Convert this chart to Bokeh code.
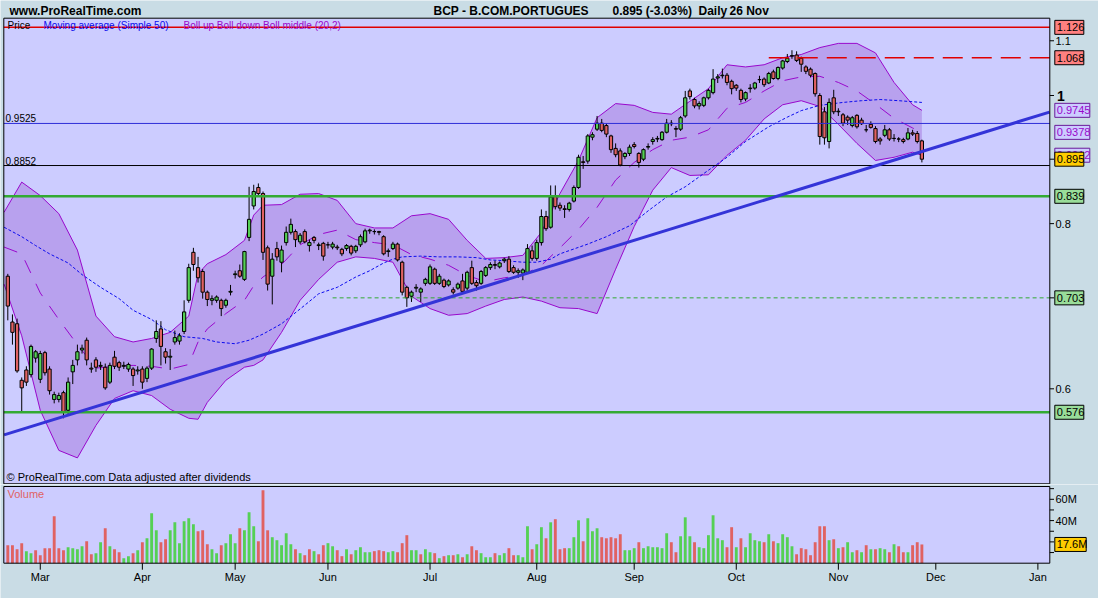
import numpy as np
import pandas as pd
from bokeh.plotting import figure
from bokeh.layouts import column
from bokeh.models import Range1d, ColumnDataSource
from bokeh.core.properties import value
from bokeh.embed import file_html
from bokeh.resources import INLINE

# ---------------- data ----------------
first_session = "2009-02-19"
last_axis_day = "2010-01-29"
market_holidays = ["2009-04-10", "2009-04-13", "2009-05-01", "2009-12-25", "2010-01-01"]
month_labels = ["Mar", "Apr", "May", "Jun", "Jul", "Aug", "Sep", "Oct", "Nov", "Dec", "Jan"]

opens = [0.730, 0.674, 0.672, 0.609, 0.620, 0.615, 0.633, 0.610, 0.639, 0.621,
         0.589, 0.589, 0.596, 0.578, 0.618, 0.631, 0.642, 0.653, 0.622, 0.631,
         0.624, 0.623, 0.607, 0.634, 0.628, 0.624, 0.621, 0.621, 0.619, 0.621,
         0.611, 0.622, 0.655, 0.666, 0.640, 0.634, 0.651, 0.652, 0.663, 0.700,
         0.761, 0.741, 0.736, 0.710, 0.700, 0.700, 0.700, 0.694, 0.710, 0.732,
         0.737, 0.726, 0.781, 0.825, 0.852, 0.843, 0.767, 0.730, 0.766, 0.748,
         0.774, 0.788, 0.789, 0.775, 0.789, 0.770, 0.781, 0.770, 0.773, 0.771,
         0.768, 0.768, 0.765, 0.766, 0.769, 0.763, 0.771, 0.775, 0.790, 0.789,
         0.789, 0.782, 0.762, 0.766, 0.772, 0.748, 0.716, 0.705, 0.715, 0.710,
         0.721, 0.721, 0.739, 0.721, 0.725, 0.719, 0.713, 0.715, 0.724, 0.715,
         0.741, 0.722, 0.721, 0.731, 0.741, 0.745, 0.742, 0.750, 0.752, 0.741,
         0.735, 0.734, 0.735, 0.763, 0.753, 0.774, 0.810, 0.795, 0.840, 0.826,
         0.821, 0.820, 0.832, 0.852, 0.891, 0.892, 0.930, 0.943, 0.953, 0.949,
         0.932, 0.912, 0.908, 0.899, 0.904, 0.918, 0.904, 0.895, 0.914, 0.923,
         0.927, 0.926, 0.938, 0.953, 0.944, 0.943, 0.965, 1.008, 0.993, 0.982,
         0.983, 0.996, 1.005, 1.031, 1.035, 1.036, 1.025, 1.018, 1.009, 0.994,
         1.012, 1.013, 1.028, 1.029, 1.022, 1.042, 1.030, 1.049, 1.061, 1.071,
         1.073, 1.067, 1.051, 1.047, 1.039, 1.000, 0.972, 0.923, 0.996, 0.972,
         0.967, 0.963, 0.949, 0.966, 0.958, 0.942, 0.951, 0.944, 0.927, 0.933,
         0.942, 0.928, 0.927, 0.926, 0.927, 0.937, 0.936, 0.924]

highs = [0.733, 0.683, 0.678, 0.612, 0.624, 0.648, 0.642, 0.641, 0.641, 0.624,
         0.597, 0.596, 0.598, 0.612, 0.631, 0.648, 0.648, 0.656, 0.628, 0.634,
         0.629, 0.627, 0.628, 0.641, 0.630, 0.629, 0.628, 0.623, 0.624, 0.624,
         0.624, 0.644, 0.676, 0.675, 0.644, 0.643, 0.664, 0.661, 0.700, 0.746,
         0.767, 0.755, 0.739, 0.712, 0.706, 0.706, 0.702, 0.702, 0.719, 0.737,
         0.745, 0.763, 0.853, 0.856, 0.858, 0.846, 0.770, 0.760, 0.775, 0.770,
         0.796, 0.807, 0.792, 0.787, 0.792, 0.778, 0.783, 0.774, 0.775, 0.775,
         0.775, 0.771, 0.767, 0.772, 0.771, 0.771, 0.785, 0.793, 0.793, 0.792,
         0.790, 0.784, 0.766, 0.775, 0.774, 0.750, 0.718, 0.712, 0.720, 0.716,
         0.728, 0.745, 0.741, 0.733, 0.727, 0.726, 0.716, 0.722, 0.733, 0.737,
         0.750, 0.725, 0.738, 0.743, 0.748, 0.750, 0.749, 0.754, 0.756, 0.744,
         0.740, 0.740, 0.772, 0.770, 0.778, 0.820, 0.818, 0.855, 0.855, 0.830,
         0.826, 0.831, 0.855, 0.902, 0.900, 0.935, 0.938, 0.965, 0.960, 0.953,
         0.934, 0.920, 0.912, 0.906, 0.918, 0.922, 0.906, 0.912, 0.920, 0.930,
         0.932, 0.940, 0.960, 0.958, 0.948, 0.965, 1.008, 1.012, 0.996, 0.990,
         0.998, 1.012, 1.047, 1.038, 1.048, 1.040, 1.028, 1.020, 1.012, 1.007,
         1.020, 1.024, 1.035, 1.032, 1.042, 1.046, 1.052, 1.064, 1.075, 1.082,
         1.080, 1.070, 1.054, 1.050, 1.041, 1.004, 0.980, 0.995, 1.010, 0.978,
         0.970, 0.966, 0.965, 0.968, 0.962, 0.950, 0.956, 0.948, 0.930, 0.950,
         0.945, 0.935, 0.930, 0.929, 0.945, 0.942, 0.940, 0.926]

lows = [0.676, 0.648, 0.617, 0.576, 0.603, 0.612, 0.628, 0.606, 0.614, 0.594,
        0.585, 0.586, 0.570, 0.574, 0.605, 0.625, 0.638, 0.625, 0.617, 0.618,
        0.620, 0.599, 0.605, 0.621, 0.619, 0.621, 0.618, 0.603, 0.615, 0.600,
        0.607, 0.620, 0.650, 0.625, 0.627, 0.620, 0.648, 0.648, 0.660, 0.697,
        0.737, 0.722, 0.702, 0.693, 0.694, 0.697, 0.681, 0.691, 0.706, 0.727,
        0.728, 0.724, 0.776, 0.820, 0.838, 0.751, 0.712, 0.695, 0.750, 0.735,
        0.770, 0.785, 0.768, 0.772, 0.773, 0.762, 0.773, 0.764, 0.750, 0.766,
        0.765, 0.764, 0.756, 0.763, 0.757, 0.760, 0.768, 0.773, 0.786, 0.785,
        0.784, 0.757, 0.755, 0.764, 0.749, 0.706, 0.692, 0.698, 0.710, 0.698,
        0.718, 0.719, 0.719, 0.719, 0.715, 0.717, 0.707, 0.713, 0.709, 0.712,
        0.719, 0.712, 0.719, 0.729, 0.738, 0.739, 0.740, 0.747, 0.734, 0.733,
        0.728, 0.725, 0.733, 0.750, 0.750, 0.770, 0.790, 0.793, 0.820, 0.818,
        0.808, 0.817, 0.830, 0.850, 0.880, 0.888, 0.925, 0.940, 0.938, 0.930,
        0.905, 0.898, 0.884, 0.895, 0.900, 0.912, 0.882, 0.892, 0.910, 0.918,
        0.922, 0.924, 0.936, 0.948, 0.930, 0.940, 0.962, 0.993, 0.978, 0.976,
        0.980, 0.993, 1.002, 1.022, 1.030, 1.018, 1.002, 1.008, 0.988, 0.990,
        1.005, 1.010, 1.022, 1.015, 1.020, 1.028, 1.027, 1.046, 1.058, 1.066,
        1.060, 1.042, 1.038, 1.032, 0.998, 0.918, 0.918, 0.912, 0.968, 0.965,
        0.948, 0.950, 0.946, 0.944, 0.950, 0.938, 0.944, 0.920, 0.918, 0.930,
        0.924, 0.923, 0.922, 0.920, 0.925, 0.932, 0.920, 0.890]

closes = [0.693, 0.662, 0.619, 0.601, 0.607, 0.646, 0.640, 0.638, 0.617, 0.598,
          0.594, 0.593, 0.576, 0.607, 0.625, 0.640, 0.644, 0.631, 0.621, 0.623,
          0.625, 0.601, 0.625, 0.624, 0.623, 0.625, 0.626, 0.614, 0.620, 0.607,
          0.622, 0.643, 0.663, 0.646, 0.634, 0.635, 0.656, 0.658, 0.686, 0.741,
          0.745, 0.728, 0.710, 0.701, 0.702, 0.704, 0.690, 0.700, 0.711, 0.733,
          0.730, 0.762, 0.806, 0.846, 0.843, 0.761, 0.720, 0.752, 0.755, 0.764,
          0.788, 0.799, 0.778, 0.784, 0.775, 0.774, 0.777, 0.771, 0.756, 0.771,
          0.772, 0.767, 0.759, 0.770, 0.760, 0.769, 0.782, 0.790, 0.791, 0.789,
          0.788, 0.759, 0.763, 0.772, 0.751, 0.710, 0.703, 0.710, 0.716, 0.714,
          0.726, 0.742, 0.721, 0.730, 0.717, 0.724, 0.710, 0.720, 0.711, 0.735,
          0.721, 0.718, 0.736, 0.741, 0.745, 0.744, 0.747, 0.752, 0.736, 0.735,
          0.737, 0.738, 0.766, 0.753, 0.774, 0.810, 0.793, 0.838, 0.824, 0.822,
          0.820, 0.829, 0.852, 0.898, 0.890, 0.932, 0.934, 0.953, 0.941, 0.935,
          0.910, 0.902, 0.886, 0.904, 0.914, 0.915, 0.890, 0.910, 0.915, 0.926,
          0.928, 0.938, 0.953, 0.952, 0.943, 0.962, 0.996, 0.998, 0.982, 0.986,
          0.996, 1.009, 1.029, 1.033, 1.036, 1.023, 1.012, 1.013, 0.993, 1.005,
          1.013, 1.022, 1.028, 1.019, 1.039, 1.030, 1.050, 1.062, 1.067, 1.072,
          1.063, 1.056, 1.043, 1.036, 1.003, 0.931, 0.929, 0.988, 0.972, 0.973,
          0.953, 0.958, 0.962, 0.947, 0.952, 0.942, 0.946, 0.923, 0.924, 0.942,
          0.927, 0.928, 0.927, 0.923, 0.937, 0.935, 0.923, 0.895]

volume_m = [16.9, 16.9, 13.1, 18.8, 11.3, 9.4, 12.2, 7.5, 14.1, 14.1,
            44.1, 14.1, 12.2, 15.0, 14.1, 13.1, 15.9, 20.6, 8.4, 9.4,
            19.7, 32.8, 15.9, 13.1, 10.3, 4.7, 6.6, 9.4, 12.2, 19.7,
            23.4, 46.9, 30.9, 19.7, 22.5, 30.9, 38.4, 18.8, 39.4, 42.2,
            36.6, 30.0, 30.9, 17.8, 13.1, 9.4, 16.9, 18.8, 27.2, 18.8,
            32.8, 30.9, 47.8, 34.7, 20.6, 68.4, 30.9, 24.4, 21.6, 16.9,
            28.1, 17.8, 13.1, 9.4, 7.5, 13.1, 11.3, 8.4, 16.9, 18.8,
            15.9, 12.2, 6.6, 13.1, 8.4, 12.2, 15.0, 10.3, 10.3, 11.3,
            12.2, 11.3, 10.3, 11.3, 10.3, 18.8, 26.3, 12.2, 12.2, 8.4,
            13.1, 10.3, 9.4, 4.7, 6.6, 7.5, 7.5, 8.4, 5.6, 8.4,
            15.9, 12.2, 9.4, 5.6, 5.6, 9.4, 7.5, 9.4, 14.1, 7.5,
            7.5, 5.6, 34.7, 13.1, 17.8, 33.8, 23.4, 38.4, 41.3, 13.1,
            14.1, 14.1, 24.4, 40.3, 20.6, 42.2, 30.0, 32.8, 24.4, 23.4,
            24.4, 23.4, 27.2, 12.2, 12.2, 14.1, 19.7, 14.1, 15.9, 15.0,
            15.0, 14.1, 28.1, 19.7, 10.3, 25.3, 43.1, 25.3, 19.7, 15.0,
            14.1, 26.3, 45.0, 23.4, 21.6, 15.0, 33.8, 15.0, 23.4, 15.0,
            28.1, 21.6, 20.6, 19.7, 27.2, 20.6, 18.8, 27.2, 24.4, 15.9,
            8.4, 14.1, 13.1, 7.5, 19.7, 34.7, 34.7, 21.6, 22.5, 14.1,
            15.0, 19.7, 10.3, 12.2, 10.3, 16.9, 13.1, 13.1, 14.1, 13.1,
            10.3, 17.8, 15.9, 10.3, 10.3, 16.9, 19.7, 17.6]

# Bollinger (20,2)
bb_idx = [-0.8, 3, 7, 11, 15, 19, 23, 27, 31, 35, 39, 41, 43, 47, 51, 53, 55, 59, 63, 67,
          71, 75, 79, 83, 87, 91, 95, 99, 103, 107, 111, 115, 119, 123, 127, 131, 135, 139,
          143, 147, 151, 155, 159, 163, 167, 171, 175, 179, 183, 187, 191, 195, 197]
bb_upper = [0.816, 0.860, 0.840, 0.814, 0.764, 0.681, 0.657, 0.651, 0.655, 0.662, 0.681, 0.733,
            0.746, 0.758, 0.777, 0.812, 0.826, 0.827, 0.842, 0.843, 0.833, 0.800, 0.794, 0.794,
            0.811, 0.814, 0.806, 0.777, 0.753, 0.754, 0.757, 0.788, 0.843, 0.893, 0.962, 0.986,
            0.983, 0.971, 0.968, 0.990, 1.012, 1.055, 1.051, 1.055, 1.068, 1.074, 1.087, 1.095,
            1.095, 1.077, 1.023, 0.984, 0.9745]
bb_middle = [0.768, 0.759, 0.709, 0.677, 0.648, 0.622, 0.624, 0.625, 0.624, 0.621, 0.626, 0.651,
             0.666, 0.684, 0.700, 0.718, 0.729, 0.745, 0.771, 0.785, 0.791, 0.778, 0.774, 0.771,
             0.758, 0.752, 0.744, 0.731, 0.723, 0.728, 0.731, 0.744, 0.767, 0.792, 0.823, 0.863,
             0.890, 0.910, 0.925, 0.930, 0.942, 0.978, 0.988, 1.008, 1.026, 1.033, 1.034, 1.023,
             1.008, 0.985, 0.961, 0.945, 0.9378]
bb_lower = [0.720, 0.658, 0.578, 0.539, 0.532, 0.563, 0.590, 0.598, 0.593, 0.579, 0.570, 0.569,
            0.586, 0.609, 0.623, 0.625, 0.631, 0.662, 0.700, 0.726, 0.748, 0.755, 0.753, 0.748,
            0.705, 0.690, 0.682, 0.684, 0.693, 0.701, 0.704, 0.699, 0.691, 0.690, 0.684, 0.739,
            0.796, 0.848, 0.882, 0.870, 0.871, 0.901, 0.925, 0.960, 0.984, 0.991, 0.981, 0.951,
            0.920, 0.893, 0.898, 0.906, 0.9012]

# Simple moving average 50
ma_idx = [-0.8, 3, 6, 9, 13, 16, 20, 24, 27, 31, 34, 38, 42, 45, 49, 52, 55, 59, 64, 67,
          71, 75, 78, 81, 83, 85, 89, 93, 97, 101, 104, 107, 111, 114, 117, 119, 125, 129,
          134, 138, 142, 146, 151, 155, 159, 164, 168, 171, 175, 180, 184, 188, 192, 197]
ma50 = [0.795, 0.782, 0.770, 0.759, 0.747, 0.732, 0.716, 0.702, 0.688, 0.677, 0.665, 0.657,
        0.655, 0.651, 0.649, 0.653, 0.660, 0.672, 0.694, 0.708, 0.716, 0.729, 0.737, 0.747,
        0.752, 0.755, 0.756, 0.755, 0.755, 0.754, 0.751, 0.750, 0.748, 0.748, 0.752, 0.759,
        0.772, 0.782, 0.797, 0.818, 0.838, 0.853, 0.878, 0.898, 0.923, 0.947, 0.963, 0.974,
        0.983, 0.988, 0.991, 0.993, 0.991, 0.988]

# drawn objects (values)
trend_idx = [-0.8, 224.5]
trend_price = [0.5538, 0.9715]
level_red = 1.126
level_red_dash = 1.068
level_red_dash_from = 164
level_blue = 0.9525
level_black = 0.8852
level_green_hi = 0.839
level_green_dash = 0.703
level_green_dash_from = 70
level_green_lo = 0.576
last_price = 0.895
last_volume_m = 17.6

price_ticks = [0.6, 0.703, 0.8, 0.895, 1.0, 1.1]
price_tick_text = ["0.6", "", "0.8", "", "1", "1.1"]
volume_ticks = [10, 20, 30, 40, 50, 60, 70]
volume_tick_text = ["", "", "", "40M", "", "60M", ""]

# ---------------- pixel layout (page pixels) ----------------
BG = "#C9DCE5"
PLOT = "#CCCCFF"
UP = "#55D055"
DOWN = "#E06262"
BAND = "#B8A1EE"
PURPLE = "#9908CC"
MA_BLUE = "#0A0AEE"
FONT = "Liberation Sans"

W = 1098
PH = 484            # price canvas: page rows 0..484
VH = 114            # volume canvas: page rows 484..598
X0, DX = 7.3, 4.64  # page x of bar 0, spacing between bars
Y1, KY = 95.0, 574.2    # page y of price 1.0, pixels per natural-log unit
VZ, KV = 562.7, 1.065   # page y of zero volume, pixels per million
FL, FR = 3.3, 1049.3    # frame left / right
PT, PB = 17.7, 483.3    # price frame top / bottom
VT = 486.0              # volume frame top


def ix(px):
    return (px - X0) / DX


def pp(py_):
    return float(np.exp(-(py_ - Y1) / KY))


def py(price):
    return Y1 - KY * np.log(price)


def vv(py_):
    return (VZ - py_) / KV


days = pd.bdate_range(first_session, last_axis_day, freq="C", holidays=market_holidays)
month_pos = [k for k in range(1, len(days)) if days[k].month != days[k - 1].month]
month_pos = month_pos[:len(month_labels)]

n = len(closes)
idx = np.arange(n)
o = np.array(opens); c = np.array(closes); h = np.array(highs); l = np.array(lows)
candle_src = ColumnDataSource(dict(
    x=idx, h=h, l=l, top=np.maximum(o, c), bot=np.minimum(o, c),
    color=[UP if cc >= oo else DOWN for oo, cc in zip(o, c)],
))
vol_color = [DOWN] + [UP if c[k] >= c[k - 1] else DOWN for k in range(1, n)]
vol_src = ColumnDataSource(dict(x=idx, v=volume_m, color=vol_color))

XL, XR = ix(FL), ix(FR)


def put_text(fig, x_px, y, text, size=10, color="black", bold=False, align="left", baseline="middle"):
    fig.text(x=[ix(x_px)], y=[y], text=[text], text_font=value(FONT),
             text_font_size=value(f"{size}px"), text_color=color, text_align=align,
             text_baseline=baseline, text_font_style="bold" if bold else "normal")


def put_box(fig, x0, x1, ylo, yhi, fill, line):
    fig.quad(left=[ix(x0)], right=[ix(x1)], bottom=[ylo], top=[yhi],
             fill_color=fill, line_color=line, line_width=1)


def make_fig(height, yr, log=False):
    f = figure(width=W, height=height, x_range=Range1d(ix(0), ix(W)), y_range=yr,
               y_axis_type="log" if log else "linear",
               x_axis_location=None, y_axis_location=None,
               output_backend="svg", toolbar_location=None,
               min_border=0, min_border_left=0, min_border_right=0,
               min_border_top=0, min_border_bottom=0,
               background_fill_color=BG, border_fill_color=BG, outline_line_color=None)
    f.grid.visible = False
    return f


# ---------------- price panel ----------------
p = make_fig(PH, Range1d(pp(PH), pp(0)), log=True)
put_box(p, FL, FR, pp(PB), pp(PT), PLOT, None)

p.varea(x=bb_idx, y1=bb_lower, y2=bb_upper, fill_color=BAND, fill_alpha=1.0)
p.line(bb_idx, bb_upper, line_color=PURPLE, line_width=1)
p.line(bb_idx, bb_lower, line_color=PURPLE, line_width=1)
p.line(bb_idx, bb_middle, line_color=PURPLE, line_width=1, line_dash="14 12")
p.line(ma_idx, ma50, line_color=MA_BLUE, line_width=1, line_dash="3 2")

p.segment(x0="x", y0="l", x1="x", y1="h", source=candle_src, line_color="black", line_width=1)
p.vbar(x="x", width=0.7, top="top", bottom="bot", fill_color="color", line_color="black",
       line_width=1, source=candle_src)

for lev, col, wid in [(level_red, "#E00000", 1.5), (level_blue, "#2D2DD8", 1),
                      (level_black, "black", 1), (level_green_hi, "#33AA33", 2.5),
                      (level_green_lo, "#33AA33", 2.5)]:
    p.line([XL, XR], [lev, lev], line_color=col, line_width=wid)
p.line([level_red_dash_from, XR], [level_red_dash, level_red_dash],
       line_color="#E00000", line_width=1.5, line_dash="20 9")
p.line([level_green_dash_from, XR], [level_green_dash, level_green_dash],
       line_color="#33AA33", line_width=1, line_dash="4 3")
p.line(trend_idx, trend_price, line_color="#3434D8", line_width=3)

put_box(p, FL, FR, pp(PB), pp(PT), None, "black")

# header
HY = pp(10)
put_text(p, 9, HY, "www.ProRealTime.com", size=12, bold=True)
put_text(p, 433, HY, "BCP - B.COM.PORTUGUES", size=12, bold=True)
put_text(p, 612, HY, "0.895 (-3.03%)", size=12, bold=True)
put_text(p, 698, HY, "Daily", size=12, bold=True)
put_text(p, 729, HY, "26 Nov", size=12, bold=True)

# legend texts and notes
LY = pp(24.5)
put_text(p, 7, LY, "Price", size=10)
put_text(p, 43, LY, "Moving average (Simple 50)", size=10, color=MA_BLUE)
put_text(p, 183, LY, "Boll up Boll down Boll middle (20,2)", size=10, color=PURPLE)
put_text(p, 6, pp(476.7), "\u00a9 ProRealTime.com  Data adjusted after dividends", size=11)
put_text(p, 5, pp(py(level_blue) - 1), "0.9525", size=10, baseline="bottom")
put_text(p, 5, pp(py(level_black) - 1), "0.8852", size=10, baseline="bottom")

# price scale ticks
for t, s in zip(price_ticks, price_tick_text):
    p.line([XR, ix(FR + 4.2)], [t, t], line_color="black", line_width=1)
    if s == "1":
        put_text(p, 1056.5, t, s, size=14, bold=True)
    elif s:
        put_text(p, 1055, t, s, size=11)

# value boxes on the price scale
for txt, val, w, fill, fg, bd in [
    ("1.126", level_red, 29, "#FF8080", "black", "black"),
    ("1.068", level_red_dash, 29, "#FF8080", "black", "black"),
    ("0.9745", bb_upper[-1], 35, PLOT, PURPLE, "#6A1A9A"),
    ("0.9378", bb_middle[-1], 35, PLOT, PURPLE, "#6A1A9A"),
    ("0.9012", bb_lower[-1], 35, PLOT, PURPLE, "#6A1A9A"),
    ("0.895", last_price, 29, "#FFCC00", "black", "black"),
    ("0.839", level_green_hi, 29, "#99DD99", "black", "black"),
    ("0.703", level_green_dash, 29, "#99DD99", "black", "black"),
    ("0.576", level_green_lo, 29, "#99DD99", "black", "black"),
]:
    yc = py(val)
    put_box(p, 1054.3, 1054.3 + w, pp(yc + 7), pp(yc - 7), fill, bd)
    put_text(p, 1056.3, val, txt, size=11, color=fg)

# ---------------- volume panel ----------------
v = make_fig(VH, Range1d(vv(PH + VH), vv(PH)))
put_box(v, FL, FR, 0, vv(VT), PLOT, None)
v.vbar(x="x", width=0.62, top="v", bottom=0, fill_color="color", line_color=None, source=vol_src)
put_box(v, FL, FR, 0, vv(VT), None, "black")

for t, s in zip(volume_ticks, volume_tick_text):
    v.line([XR, ix(FR + 4.2)], [t, t], line_color="black", line_width=1)
    if s:
        put_text(v, 1055, t, s, size=11)

for pos, s in zip(month_pos, month_labels):
    v.line([pos, pos], [0, vv(VZ + 6.5)], line_color="black", line_width=1)
    v.text(x=[pos], y=[vv(576)], text=[s], text_font=value(FONT), text_font_size=value("11px"),
           text_color="black", text_align="center", text_baseline="middle")

put_text(v, 7, vv(493), "Volume", size=11, color="#E06262")
put_box(v, 1054.3, 1085.7, vv(VZ - KV * last_volume_m + 7), vv(VZ - KV * last_volume_m - 7), "#FFCC00", "black")
put_text(v, 1056.3, last_volume_m, "17.6M", size=11)

layout = column(p, v, spacing=0)
open("out.html", "w").write(file_html(layout, INLINE))
